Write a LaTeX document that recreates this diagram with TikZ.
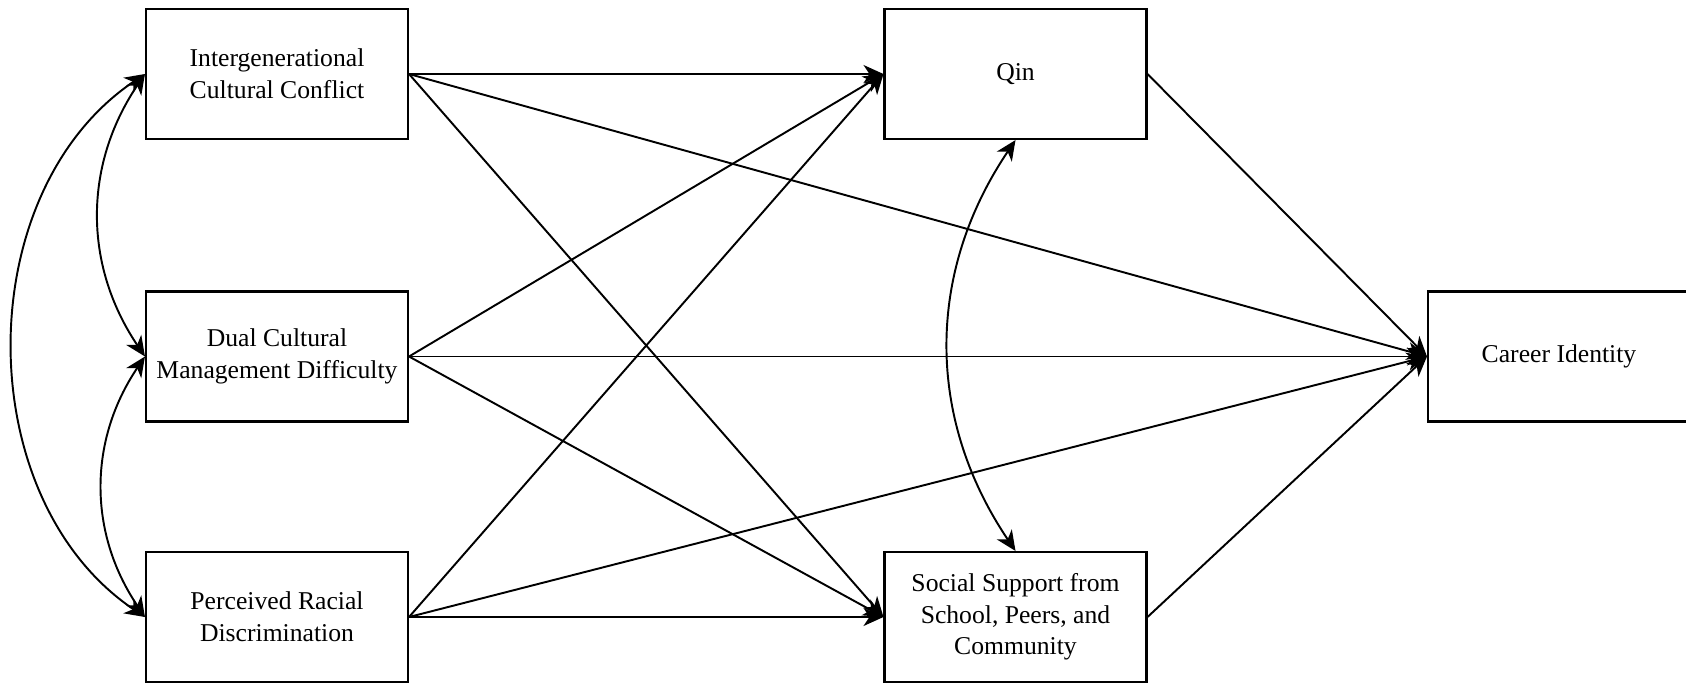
\documentclass[tikz,border=0pt]{standalone}
\usepackage{fontspec}
\setmainfont{Liberation Serif}
\usepackage{tikz}
\usetikzlibrary{
    arrows.meta,
    positioning
}
\tikzset{
  var/.style   = {draw, line width=1.2pt, minimum width=5.24cm,
                  minimum height=2.6cm, inner sep=0pt, align=center,
                  font=\fontsize{14.6}{18}\selectfont},
  path/.style  = {-{Stealth[length=4mm, width=3.6mm, inset=1.2mm]}, line width=1.1pt},
  cov/.style   = {{Stealth[length=4mm, width=3.6mm, inset=1.2mm]}-{Stealth[length=4mm, width=3.6mm, inset=1.2mm]}, line width=1.1pt}
}

\begin{document}
\begin{tikzpicture}[x=0.02cm, y=-0.02cm]
\useasboundingbox (0,0) rectangle (1686,683);
% predictors
\node[var] (icc)  at (277,74)    {Intergenerational\\Cultural Conflict};
\node[var] (dcmd) at (277,356.5) {Dual Cultural\\Management Difficulty};
\node[var] (prd)  at (277,617)   {Perceived Racial\\Discrimination};
% mediators
\node[var] (qin)  at (1015.5,74)  {Qin};
\node[var] (ss)   at (1015.5,617) {Social Support from\\School, Peers, and\\Community};
% outcome
\node[var] (ci)   at (1559,356.5) {Career Identity};
% direct paths
\draw[path] (icc.east) -- (qin.west);
\draw[path] (icc.east) -- (ss.west);
\draw[path] (icc.east) -- (ci.west);
\draw[path] (dcmd.east) -- (qin.west);
\draw[path] (dcmd.east) -- (ss.west);
\draw[path] (dcmd.east) -- (ci.west);
\draw[path] (prd.east) -- (qin.west);
\draw[path] (prd.east) -- (ss.west);
\draw[path] (prd.east) -- (ci.west);
\draw[path] (qin.east) -- (ci.west);
\draw[path] (ss.east) -- (ci.west);
% covariances
\draw[cov] (icc.west) to[bend right=34] (dcmd.west);
\draw[cov] (dcmd.west) to[bend right=34] (prd.west);
\draw[cov] (icc.west) to[bend right=56] (prd.west);
\draw[cov] (qin.south) to[bend right=34] (ss.north);
\end{tikzpicture}
\end{document}
